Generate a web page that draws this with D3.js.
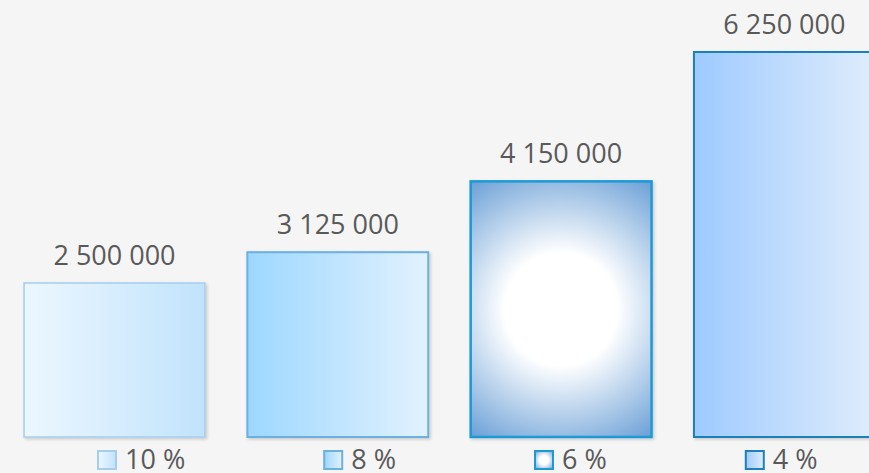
<!DOCTYPE html>
<html>
<head>
<meta charset="utf-8">
<script src="https://cdn.jsdelivr.net/npm/d3@7"></script>
<style>
    html, body { margin: 0; padding: 0; background: #f5f5f5; }
    svg { display: block; }
    text { font-family: "Open Sans", sans-serif; fill: #595959; }
</style>
</head>
<body>
<div id="chart"></div>
<script>

const categories = ['10 %', '8 %', '6 %', '4 %'];
const values = [2500000, 3000000, 4150000, 6250000];
const valueLabels = ['2 500 000', '3 125 000', '4 150 000', '6 250 000'];

const width = 869;
const height = 473;
const font_size = 27;

// one look per bar: linear left->right, except the third (radial)
const looks = [
    {id: 'g0', type: 'linear', from: '#ecf7ff', to: '#c1e3fc', stroke: '#a6cdee', sw: 1.5},
    {id: 'g1', type: 'linear', from: '#9dd7ff', to: '#e2f2fe', stroke: '#6cb0e2', sw: 2},
    {id: 'g2', type: 'radial', from: '#ffffff', to: '#6a9fd6', stroke: '#1b9ad6', sw: 2.5},
    {id: 'g3', type: 'linear', from: '#9ecaff', to: '#dfedfc', stroke: '#1f80b8', sw: 2}
];

const svg = d3.select('#chart').append('svg')
    .attr('width', width)
    .attr('height', height)
    .attr('viewBox', [0, 0, width, height]);

svg.append('rect')
    .attr('width', width)
    .attr('height', height)
    .attr('fill', '#f5f5f5');

const x = d3.scaleBand()
    .domain(categories)
    .range([2.85, 2.85 + 4 * 223.3])
    .paddingInner(0.19)
    .paddingOuter(0.095);

const y = d3.scaleLinear()
    .domain([0, 6250000])
    .range([437, 52]);

const defs = svg.append('defs');

const shadow = defs.append('filter')
    .attr('id', 'shadow')
    .attr('x', '-5%').attr('y', '-5%')
    .attr('width', '115%').attr('height', '115%');
shadow.append('feDropShadow')
    .attr('dx', 1.5).attr('dy', 1.5)
    .attr('stdDeviation', 1.5)
    .attr('flood-color', '#000')
    .attr('flood-opacity', 0.18);

function addGradient(id, look, radialBox) {
    let g;
    if (look.type === 'linear') {
        g = defs.append('linearGradient')
            .attr('id', id)
            .attr('x1', 0).attr('y1', 0)
            .attr('x2', 1).attr('y2', 0);
        g.append('stop').attr('offset', 0).attr('stop-color', look.from);
        g.append('stop').attr('offset', 1).attr('stop-color', look.to);
    } else {
        g = defs.append('radialGradient').attr('id', id);
        if (radialBox) {
            g.attr('gradientUnits', 'userSpaceOnUse')
             .attr('cx', radialBox.cx).attr('cy', radialBox.cy)
             .attr('r', radialBox.r);
        } else {
            g.attr('cx', 0.5).attr('cy', 0.5).attr('r', 0.7);
        }
        g.append('stop').attr('offset', 0).attr('stop-color', look.from);
        g.append('stop').attr('offset', 0.36).attr('stop-color', look.from);
        g.append('stop').attr('offset', 1).attr('stop-color', look.to);
    }
}

// bar gradients
looks.forEach(function(l, i) {
    const x0 = x(categories[i]);
    const w = x.bandwidth();
    const top = y(values[i]);
    const h = y(0) - top;
    addGradient(l.id, l, {cx: x0 + w / 2, cy: top + h / 2,
                          r: Math.sqrt(w * w + h * h) / 2});
    addGradient(l.id + '_leg', l, null);
});

// Bars
svg.append('g')
    .selectAll('rect')
    .data(values)
    .join('rect')
    .attr('x', function(d, i) { return x(categories[i]); })
    .attr('y', function(d) { return y(d); })
    .attr('width', x.bandwidth())
    .attr('height', function(d) { return y(0) - y(d); })
    .attr('fill', function(d, i) { return 'url(#' + looks[i].id + ')'; })
    .attr('stroke', function(d, i) { return looks[i].stroke; })
    .attr('stroke-width', function(d, i) { return looks[i].sw; })
    .attr('filter', 'url(#shadow)');

// Value labels
svg.append('g')
    .selectAll('text')
    .data(values)
    .join('text')
    .attr('x', function(d, i) { return x(categories[i]) + x.bandwidth() / 2; })
    .attr('y', function(d) { return y(d) - 18; })
    .attr('text-anchor', 'middle')
    .style('font-size', font_size + 'px')
    .text(function(d, i) { return valueLabels[i]; });

// Legend
const legend = svg.append('g');
const box = 18;
let lx = 98;
categories.forEach(function(c, i) {
    legend.append('rect')
        .attr('x', lx)
        .attr('y', 451)
        .attr('width', box)
        .attr('height', box)
        .attr('fill', 'url(#' + looks[i].id + '_leg)')
        .attr('stroke', looks[i].stroke)
        .attr('stroke-width', 2);
    const t = legend.append('text')
        .attr('x', lx + box + 9)
        .attr('y', 469)
        .style('font-size', font_size + 'px')
        .text(c);
    lx += box + 9 + t.node().getComputedTextLength() + 139;
});

</script>
</body>
</html>
